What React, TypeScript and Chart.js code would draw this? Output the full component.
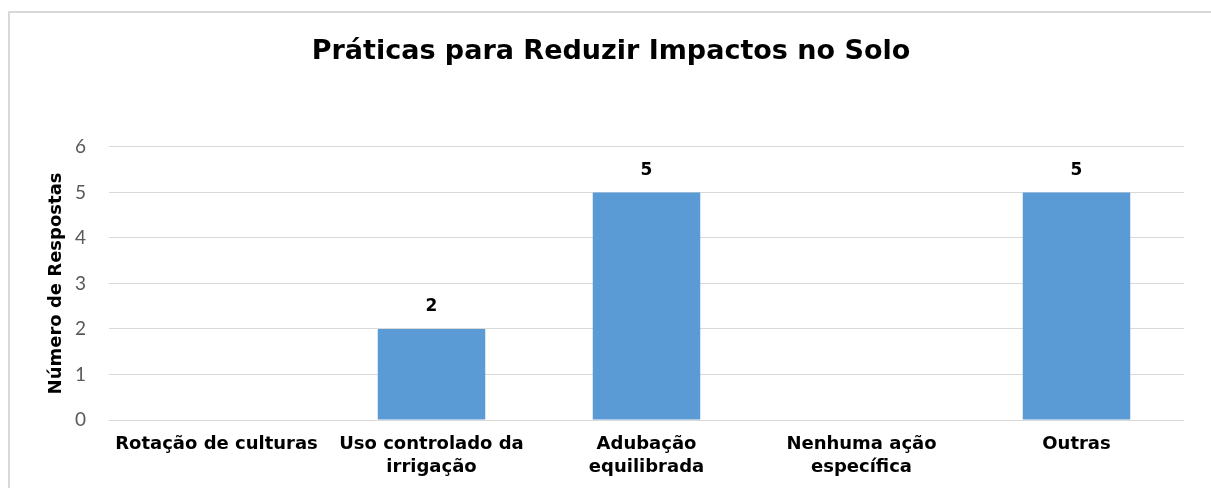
import React, { useEffect, useRef } from "react";
import { Chart, registerables } from "chart.js";

Chart.register(...registerables);

const categories: (string | string[])[] = [
  "Rotação de culturas",
  ["Uso controlado da", "irrigação"],
  ["Adubação", "equilibrada"],
  ["Nenhuma ação", "específica"],
  "Outras",
];
const respostas: number[] = [0, 2, 5, 0, 5];
const yTicks: number[] = [0, 1, 2, 3, 4, 5, 6];

const titleText = "Práticas para Reduzir Impactos no Solo";
const yTitle = "Número de Respostas";
const barColor = "#5B9BD5";
const gridColor = "#D9D9D9";
const fontFamily = "'DejaVu Sans', 'Liberation Sans', sans-serif";
const tickFamily = "Lato, 'Liberation Sans', sans-serif";

const dataLabelPlugin = {
  id: "dataLabels",
  afterDatasetsDraw(chart: any) {
    const ctx = chart.ctx;
    const meta = chart.getDatasetMeta(0);
    ctx.save();
    ctx.font = `bold 17px ${fontFamily}`;
    ctx.fillStyle = "#000000";
    ctx.textAlign = "center";
    ctx.textBaseline = "middle";
    meta.data.forEach((bar: any, i: number) => {
      const v = respostas[i];
      if (!v) return;
      ctx.fillText(String(v), bar.x, bar.y - 22);
    });
    ctx.restore();
  },
};

export default function App() {
  const ref = useRef<HTMLCanvasElement | null>(null);

  useEffect(() => {
    if (!ref.current) return;
    const chart = new Chart(ref.current, {
      type: "bar",
      data: {
        labels: categories,
        datasets: [
          {
            data: respostas,
            backgroundColor: barColor,
            categoryPercentage: 0.5,
            barPercentage: 1.0,
          },
        ],
      },
      options: {
        animation: false,
        responsive: false,
        layout: { padding: { left: 38, right: 27, top: 0, bottom: 0 } },
        plugins: {
          legend: { display: false },
          tooltip: { enabled: false },
          title: {
            display: true,
            text: titleText,
            color: "#000000",
            font: { family: fontFamily, size: 27, weight: "bold", lineHeight: 1.2 },
            padding: { top: 35.5, bottom: 79 },
          },
        },
        scales: {
          x: {
            grid: { display: false, drawTicks: false },
            border: { display: false },
            ticks: {
              color: "#000000",
              font: { family: fontFamily, size: 18, weight: "bold", lineHeight: 1.28 },
              padding: 13,
              maxRotation: 0,
              autoSkip: false,
            },
            afterFit(scale: any) {
              scale.height = 68;
            },
          },
          y: {
            min: 0,
            max: 6,
            afterBuildTicks(scale: any) {
              scale.ticks = yTicks.map((v) => ({ value: v }));
            },
            grid: { color: gridColor, lineWidth: 1, drawTicks: false },
            border: { display: false },
            ticks: {
              color: "#595959",
              font: { family: tickFamily, size: 19 },
              padding: 23,
            },
            title: {
              display: true,
              text: yTitle,
              color: "#000000",
              font: { family: fontFamily, size: 18, weight: "bold", lineHeight: 1.2 },
              padding: { top: 8, bottom: 0 },
            },
            afterFit(scale: any) {
              scale.width = 71;
            },
          },
        },
      },
      plugins: [dataLabelPlugin],
    });
    return () => chart.destroy();
  }, []);

  return (
    <>
      <canvas
        ref={ref}
        width={1211}
        height={488}
        style={{ position: "fixed", left: 0, top: 0, width: 1211, height: 488 }}
      />
      <div
        style={{
          position: "fixed",
          left: 8,
          top: 11,
          width: 1260,
          height: 600,
          border: "2px solid #D9D9D9",
          boxSizing: "border-box",
          pointerEvents: "none",
        }}
      />
    </>
  );
}
